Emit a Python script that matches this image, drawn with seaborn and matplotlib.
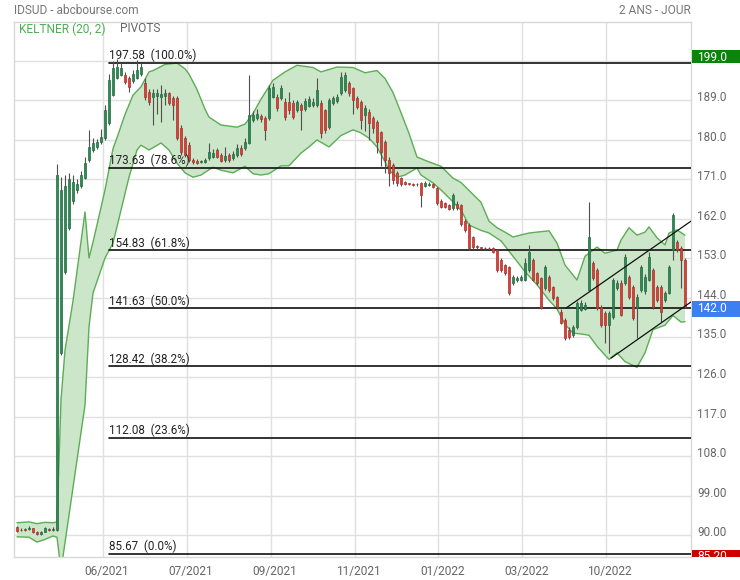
import numpy as np
import pandas as pd
import seaborn as sns
import matplotlib
matplotlib.use("Agg")
import matplotlib.pyplot as plt
import matplotlib.transforms as mtransforms
from matplotlib.patches import Rectangle

# daily candles (one entry per bar)
opens = [91.8, 91.2, 91.3, 91.4, 91.5, 90.7, 90.3, 90.8, 91.3, 91.2,
         91.2, 131.5, 150.0, 160.0, 166.0, 168.5, 169.5, 171.3, 175.4, 177.7,
         178.4, 179.5, 180.4, 183.9, 190.2, 194.1, 194.8, 194.8, 194.1, 193.5,
         194.1, 195.0, 193.0, 190.9, 189.8, 190.0, 189.8, 190.0, 190.7, 189.5,
         189.5, 182.7, 180.4, 178.8, 175.4, 175.3, 175.0, 175.0, 175.9, 176.2,
         177.7, 176.6, 175.4, 176.6, 175.8, 176.6, 178.2, 178.2, 179.3, 184.5,
         185.0, 185.5, 185.0, 185.0, 189.8, 189.8, 189.5, 188.6, 188.6, 188.4,
         186.8, 188.0, 187.0, 187.8, 188.0, 188.0, 188.4, 186.8, 183.0, 188.5,
         188.8, 190.7, 191.4, 193.0, 191.8, 189.5, 188.6, 185.7, 186.4, 185.0,
         184.0, 181.8, 179.5, 175.4, 174.3, 172.5, 171.3, 170.4, 170.1, 170.0,
         169.9, 170.2, 169.5, 169.7, 169.9, 169.0, 166.2, 165.6, 165.2, 164.4,
         165.5, 165.2, 161.5, 160.6, 157.9, 155.8, 155.5, 155.4, 155.4, 155.4,
         154.9, 152.6, 151.5, 151.0, 147.4, 148.0, 148.1, 148.1, 150.4, 152.6,
         149.7, 148.5, 146.3, 148.8, 146.5, 144.2, 140.8, 139.0, 136.7, 135.6,
         137.4, 141.3, 141.5, 145.8, 152.0, 150.4, 141.9, 140.6, 137.8, 139.7,
         146.3, 147.4, 147.4, 148.8, 146.5, 141.7, 145.8, 145.5, 148.1, 150.4,
         146.5, 146.5, 143.5, 145.1, 154.9, 156.7, 155.4, 152.6]
closes = [91.0, 91.2, 91.1, 91.7, 90.6, 90.2, 90.8, 91.5, 91.2, 91.4,
          172.0, 168.5, 169.5, 171.0, 170.5, 170.0, 172.0, 174.7, 178.4, 179.3,
          179.5, 180.7, 186.8, 193.6, 196.4, 196.6, 196.4, 193.2, 192.0, 195.0,
          195.9, 196.5, 189.8, 188.6, 190.7, 190.7, 190.5, 190.8, 188.4, 188.0,
          180.4, 177.2, 176.6, 175.4, 174.9, 174.8, 175.1, 175.4, 177.2, 177.0,
          176.1, 175.3, 176.3, 175.5, 176.8, 178.2, 176.8, 179.5, 185.7, 185.7,
          185.8, 184.8, 182.3, 191.8, 192.0, 187.3, 191.8, 185.2, 186.8, 185.2,
          188.6, 186.8, 188.8, 189.3, 188.6, 191.4, 181.6, 182.3, 189.0, 189.5,
          189.8, 194.3, 194.8, 190.7, 189.1, 187.5, 184.5, 187.3, 183.9, 182.7,
          179.5, 177.2, 175.5, 172.5, 170.9, 170.2, 169.9, 170.0, 169.9, 169.8,
          170.0, 167.5, 170.2, 170.0, 169.2, 165.6, 164.7, 164.7, 164.2, 167.5,
          164.5, 160.8, 159.5, 155.4, 155.6, 155.5, 155.4, 155.3, 155.3, 154.5,
          150.4, 150.4, 149.7, 145.1, 148.8, 148.6, 148.8, 152.0, 154.5, 148.1,
          147.4, 141.7, 151.0, 145.8, 144.0, 141.9, 138.3, 134.9, 135.1, 137.4,
          142.8, 142.8, 142.3, 157.9, 148.5, 141.7, 137.8, 137.8, 140.6, 148.1,
          147.4, 140.1, 153.3, 144.2, 139.4, 144.2, 151.0, 148.8, 153.3, 141.9,
          143.5, 140.8, 145.1, 151.0, 162.9, 154.9, 152.6, 142.0]
highs = [92.0, 91.6, 91.6, 92.0, 91.7, 90.9, 91.0, 91.9, 91.7, 91.8,
         174.5, 171.5, 172.0, 172.5, 172.0, 171.0, 173.0, 176.0, 182.3, 180.5,
         180.3, 182.5, 188.0, 195.0, 198.0, 198.5, 197.5, 195.5, 194.5, 196.0,
         198.2, 197.5, 194.0, 191.5, 191.5, 191.5, 192.5, 191.5, 191.0, 190.0,
         190.0, 183.5, 181.0, 179.5, 175.8, 175.6, 175.4, 175.8, 179.3, 178.0,
         178.2, 177.0, 178.5, 177.0, 177.5, 179.0, 178.8, 180.5, 194.8, 186.5,
         187.0, 186.0, 185.5, 192.5, 193.0, 190.5, 192.5, 189.5, 191.0, 189.0,
         189.2, 188.5, 189.5, 190.0, 189.5, 194.0, 189.0, 187.0, 189.5, 190.0,
         190.5, 195.5, 195.5, 193.5, 192.0, 190.0, 189.0, 188.0, 187.0, 185.5,
         184.5, 182.0, 180.0, 176.0, 174.8, 173.0, 171.5, 170.6, 170.3, 170.2,
         170.3, 170.4, 170.6, 170.4, 170.2, 169.3, 166.5, 165.9, 165.5, 167.8,
         166.0, 165.5, 162.0, 161.0, 158.2, 156.0, 155.7, 155.6, 155.6, 155.6,
         155.2, 153.0, 151.8, 151.3, 149.2, 149.0, 149.2, 153.0, 156.0, 153.0,
         150.0, 148.8, 151.5, 149.2, 146.8, 144.5, 141.5, 139.5, 137.4, 137.8,
         143.2, 143.5, 143.0, 165.9, 152.5, 150.8, 142.3, 141.0, 141.0, 148.5,
         148.0, 148.0, 154.0, 149.2, 147.0, 145.0, 151.5, 149.5, 154.5, 150.8,
         147.0, 147.0, 145.5, 151.5, 163.3, 157.2, 155.8, 153.0]
lows = [90.8, 90.9, 90.9, 91.2, 90.4, 89.9, 90.1, 90.6, 90.9, 91.0,
        91.0, 131.0, 149.5, 159.5, 165.5, 168.0, 169.0, 171.0, 175.0, 177.3,
        178.0, 179.0, 180.0, 183.5, 190.0, 193.8, 194.5, 192.8, 191.0, 193.0,
        193.8, 194.5, 189.0, 188.0, 183.4, 186.0, 184.0, 188.0, 188.0, 184.5,
        180.0, 176.5, 176.0, 175.0, 174.5, 174.5, 174.7, 174.8, 175.5, 175.8,
        175.8, 175.0, 175.0, 175.0, 175.5, 176.2, 176.4, 177.8, 179.0, 184.0,
        184.5, 184.0, 180.0, 184.5, 189.5, 186.5, 189.0, 184.5, 186.0, 184.8,
        186.4, 182.3, 186.5, 187.5, 187.5, 187.5, 180.5, 181.5, 182.5, 188.0,
        188.3, 190.3, 191.0, 190.0, 186.0, 187.0, 182.5, 182.0, 180.0, 181.5,
        177.0, 174.0, 172.5, 169.5, 170.0, 169.5, 169.5, 169.7, 169.7, 169.6,
        169.6, 164.7, 169.2, 169.4, 169.0, 165.2, 164.4, 164.4, 164.0, 164.0,
        164.0, 160.5, 159.0, 155.0, 155.2, 155.2, 155.2, 155.1, 155.1, 154.3,
        150.0, 150.0, 149.3, 144.7, 147.0, 147.6, 147.8, 147.8, 150.0, 147.8,
        147.0, 141.5, 145.8, 145.4, 143.6, 141.5, 138.0, 134.5, 134.6, 135.2,
        137.0, 141.0, 141.2, 145.5, 148.0, 141.3, 137.5, 133.7, 131.5, 139.3,
        145.8, 139.8, 147.0, 143.8, 139.0, 134.9, 145.4, 145.0, 147.8, 141.5,
        143.0, 138.5, 143.0, 144.8, 152.6, 154.5, 146.3, 141.8]

# Keltner (20, 2) envelope
upper_idx = [0, 3, 5, 7, 9, 10, 11, 12, 14, 17, 18, 19, 22, 24, 25, 27, 29, 31, 33, 34,
             37, 40, 42, 43, 45, 47, 48, 51, 55, 57, 59, 61, 64, 67, 70, 74, 76, 80, 84, 87,
             90, 92, 94, 96, 98, 100, 103, 106, 109, 111, 113, 116, 118, 120, 122, 124, 128,
             133, 135, 137, 140, 142, 145, 147, 150, 151, 153, 155, 157, 158, 160, 162, 163,
             165, 167]
upper_band = [92.8, 93.0, 92.6, 92.9, 92.8, 93.0, 120.8, 132.1, 143.3, 163.6, 153.1, 156.7,
              168.6, 178.0, 180.5, 185.8, 190.2, 192.1, 195.5, 195.8, 197.2, 197.5, 196.2,
              195.0, 191.5, 187.0, 185.2, 183.4, 182.9, 183.6, 186.0, 189.3, 193.6, 195.5,
              197.0, 196.5, 195.5, 196.6, 196.5, 195.3, 195.8, 194.0, 190.8, 186.2, 181.5,
              176.1, 175.0, 174.0, 171.3, 170.3, 168.5, 165.8, 161.5, 160.0, 159.0, 157.9,
              158.8, 159.3, 156.5, 151.5, 148.1, 153.5, 155.6, 154.2, 154.9, 157.2, 160.0,
              158.3, 159.0, 160.2, 157.7, 156.1, 158.8, 159.5, 158.3]
lower_idx = [0, 3, 5, 7, 9, 10, 11, 17, 18, 19, 22, 24, 28, 30, 31, 33, 36, 38, 40, 42,
             44, 46, 49, 51, 54, 57, 59, 61, 63, 66, 68, 71, 73, 75, 78, 81, 84, 86, 88, 90,
             92, 93, 95, 97, 100, 101, 104, 106, 108, 111, 113, 116, 118, 121, 124, 127, 130,
             133, 135, 137, 139, 141, 143, 145, 148, 150, 152, 155, 157, 159, 162, 164, 166,
             167]
lower_band = [89.6, 89.5, 88.4, 89.0, 89.8, 89.5, 82.0, 119.6, 137.4, 145.1, 153.1, 156.5,
              171.5, 177.7, 178.8, 177.7, 179.3, 177.7, 174.7, 172.5, 171.5, 172.0, 173.8,
              173.1, 172.5, 174.0, 172.3, 172.0, 172.3, 174.1, 174.1, 177.0, 178.4, 180.0,
              178.4, 181.0, 182.3, 181.6, 180.4, 178.4, 175.0, 173.1, 171.5, 172.0, 173.6,
              172.0, 170.2, 168.6, 166.8, 164.0, 160.6, 159.4, 158.8, 157.0, 153.5, 150.0,
              147.0, 143.5, 141.5, 138.0, 136.0, 135.8, 135.5, 133.0, 130.0, 131.5, 129.5,
              128.2, 131.5, 136.8, 137.8, 140.0, 138.5, 138.6]

# Fibonacci pivots
fib_levels = [197.58, 173.63, 154.83, 141.63, 128.42, 112.08, 85.67]
fib_pcts = [100.0, 78.6, 61.8, 50.0, 38.2, 23.6, 0.0]
fib_start_bar = 23

# rising channel
chan_upper_bars = [137.25, 168.5]
chan_upper = [141.7, 161.5]
chan_lower_bars = [148.5, 168.5]
chan_lower = [130.3, 143.1]

period_high = 199.0
period_low = 85.20
last_close = closes[-1]

tick_labels = ['06/2021', '07/2021', '09/2021', '11/2021', '01/2022', '03/2022', '10/2022']
tick_pos = [21.5, 42.5, 63.4, 84.4, 105.3, 126.3, 147.2]

df = pd.DataFrame({'bar': np.arange(len(closes)), 'open': opens, 'close': closes,
                   'high': highs, 'low': lows})
df['up'] = df['close'] >= df['open']

sns.set_theme(style="whitegrid")
plt.rcParams['font.family'] = ['Roboto', 'DejaVu Sans']

W, H = 740, 580
fig = plt.figure(figsize=(W / 100, H / 100), dpi=100)
ax = fig.add_axes([14 / W, (H - 557) / H, (691 - 14) / W, (557 - 22) / H])
ax.set_xlim(-0.75, 168.5)
ax.set_ylim(85.0, 206.86)

# keltner band
poly_x = np.r_[upper_idx, lower_idx[::-1]]
poly_y = np.r_[upper_band, lower_band[::-1]]
ax.fill(poly_x, poly_y, color='#cbe6c8', lw=0, zorder=1)
sns.lineplot(x=upper_idx, y=upper_band, ax=ax, color='#5cad55', lw=1.0,
             estimator=None, sort=False, legend=False, zorder=2)
sns.lineplot(x=lower_idx, y=lower_band, ax=ax, color='#5cad55', lw=1.0,
             estimator=None, sort=False, legend=False, zorder=2)

# fib lines
xmax = ax.get_xlim()[1]
lift = mtransforms.offset_copy(ax.transData, fig=fig, x=0, y=0.5, units='points')
for lvl, pct in zip(fib_levels, fib_pcts):
    ax.plot([fib_start_bar, xmax], [lvl, lvl], color='#111111', lw=1.2, zorder=3)
    ax.text(fib_start_bar, lvl, f"{lvl:.2f}  ({pct:.1f}%)", transform=lift,
            ha='left', va='bottom', fontsize=8.4, color='#222222', zorder=6)

# candles
wick_col = '#505050'
ax.vlines(df['bar'], df['low'], df['high'], color=wick_col, lw=0.8, zorder=4)
fill = np.where(df['up'], '#2e8b57', '#dd4036')
edge = np.where(df['up'], '#22693f', '#a8322b')
ax.bar(df['bar'], df['close'] - df['open'], bottom=df['open'], width=0.72,
       color=fill, edgecolor=edge, linewidth=0.5, zorder=5)

# channel
ax.plot(chan_upper_bars, chan_upper, color='#111111', lw=0.9, zorder=6)
ax.plot(chan_lower_bars, chan_lower, color='#111111', lw=0.9, zorder=6)

# axes styling
ax.grid(True, color='#e0e0e0', lw=1)
ax.set_axisbelow(True)
for s in ax.spines.values():
    s.set_color('#d8d8d8')
    s.set_linewidth(1)
ax.set_xticks(tick_pos)
ax.set_xticklabels(tick_labels)
ax.tick_params(axis='x', length=0, pad=6, labelsize=8.6, labelcolor='#666666')
shift = mtransforms.ScaledTranslation(4 / 100, 0, fig.dpi_scale_trans)
for lab in ax.get_xticklabels():
    lab.set_transform(lab.get_transform() + shift)

# price scale on the right: labels sit a little above their grid lines
yt = np.arange(90, 199, 9)
ax.set_yticks(yt)
ax.tick_params(axis='y', length=0, labelleft=False, labelright=False)
ax.set_xlabel('')
ax.set_ylabel('')
ylab_tr = (mtransforms.blended_transform_factory(ax.transAxes, ax.transData) +
           mtransforms.ScaledTranslation(6 / 100, 2.5 / 100, fig.dpi_scale_trans))
for v in yt:
    if v < 198:
        ax.text(1.0, v, f"{v:#.4g}", transform=ylab_tr, ha='left', va='center',
                fontsize=8.4, color='#666666', clip_on=False)

# right value tags
axr = fig.add_axes([691 / W, (H - 557) / H, 49 / W, (557 - 22) / H], zorder=5)
axr.set_xlim(0, 1)
axr.set_ylim(ax.get_ylim())
axr.axis('off')
tags = [(period_high, '#0a850a', 1.5, 1.5, 0.25),
        (last_close, '#3d7ef0', 2.3, 1.4, 0.45),
        (period_low, '#cc0000', 1.5, 1.5, 0.0)]
for val, col, below, above, drop in tags:
    axr.add_patch(Rectangle((0.02, val - below), 0.98, below + above, color=col, lw=0,
                            clip_on=True))
    axr.text(0.12, val - drop, f"{val:#.4g}", color='white', va='center', ha='left',
             fontsize=8.6, clip_on=True)

# header texts
fig.text(14 / W, 1 - 10 / H, 'IDSUD - abcbourse.com', color='#777777', fontsize=8.6,
         ha='left', va='center')
fig.text(691 / W, 1 - 10 / H, '2 ANS - JOUR', color='#777777', fontsize=8.6,
         ha='right', va='center')
fig.text(19 / W, 1 - 29 / H, 'KELTNER (20, 2)', color='#4caf50', fontsize=8.6,
         ha='left', va='center')
fig.text(120 / W, 1 - 29 / H, 'PIVOTS', color='#666666', fontsize=8.6,
         ha='left', va='center')

fig.savefig('out.png', dpi=100)
